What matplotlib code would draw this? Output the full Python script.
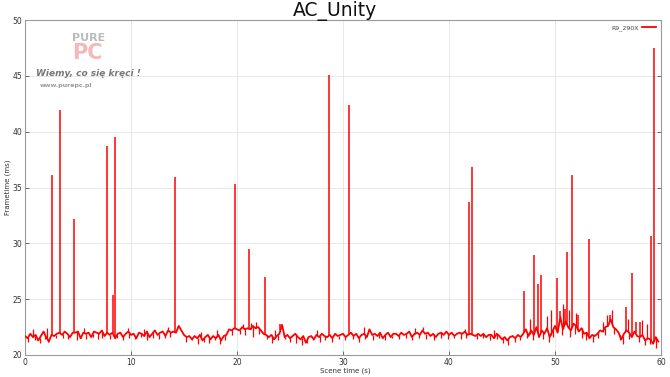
import numpy as np
import matplotlib
matplotlib.use("Agg")
import matplotlib.pyplot as plt

# ---- data ----
series_name = "R9_290X"
title = "AC_Unity"

# baseline frametime (ms), 4 samples per second from 0.0 s to 59.75 s
base_ms = [
    21.7, 21.5, 21.9, 21.6,  21.8, 21.3, 21.7, 22.1,  21.6, 21.2, 21.8, 21.7,
    21.9, 22.0, 21.8, 22.1,  21.9, 21.6, 22.0, 22.0,  22.1, 21.5, 22.0, 21.9,
    22.0, 21.6, 22.1, 22.0,  21.9, 22.2, 21.7, 22.0,  21.8, 22.0, 21.5, 21.9,
    22.0, 21.6, 21.9, 22.1,  21.8, 21.9, 21.5, 22.0,  21.9, 21.7, 22.1, 21.6,
    21.9, 22.2, 21.8, 22.0,  22.1, 21.7, 22.2, 22.0,  22.1, 22.0, 22.6, 22.2,
    21.8, 21.6, 21.7, 21.4,  21.7, 21.5, 21.8, 21.3,  21.6, 21.8, 21.4, 21.7,
    21.5, 21.8, 21.3, 21.7,  21.8, 22.3, 22.2, 22.4,  22.3, 22.2, 22.5, 22.3,
    22.4, 22.3, 22.6, 22.4,  22.5, 22.2, 21.9, 21.8,  21.6, 21.8, 21.4, 21.7,
    21.9, 22.7, 21.6, 21.8,  21.5, 21.7, 21.9, 21.6,  21.4, 21.7, 21.1, 21.6,
    21.7, 21.4, 21.8, 21.6,  21.9, 21.7, 21.6, 21.8,  21.5, 21.9, 21.7, 21.8,
    21.9, 21.6, 21.8, 22.0,  21.7, 21.9, 21.5, 21.8,  21.9, 21.6, 22.3, 21.8,
    21.9, 21.7, 22.0, 21.5,  21.8, 22.0, 21.6, 21.9,  21.9, 21.7, 22.0, 21.8,
    21.9, 22.1, 21.6, 21.9,  22.0, 21.8, 22.2, 21.9,  22.0, 21.7, 21.9, 21.6,
    21.9, 22.0, 21.8, 22.1,  21.8, 22.0, 21.7, 21.9,  22.0, 21.9, 22.1, 21.8,
    21.9, 21.8, 21.7, 21.9,  21.7, 21.9, 21.6, 21.8,  21.8, 21.5, 21.9, 21.7,
    21.4, 21.6, 21.3, 21.6,  21.7, 21.5, 21.8, 21.6,  21.9, 22.3, 21.7, 22.2,
    21.8, 22.5, 21.6, 22.2,  21.9, 22.4, 21.6, 22.1,  22.6, 22.0, 23.4, 22.3,
    23.0, 22.5, 22.2, 22.8,  22.6, 22.1, 22.4, 21.9,  22.0, 21.5, 21.8, 21.7,
    21.9, 22.2, 22.1, 22.5,  22.6, 23.2, 22.5, 22.3,  22.0, 21.4, 21.9, 22.2,
    22.0, 21.6, 22.1, 21.7,  21.6, 21.8, 21.3, 21.5,  21.4, 21.0, 21.6, 21.2,
]
base_step_s = 0.25

# single-frame spikes: time (s) and peak frametime (ms)
spike_t = [2.50, 3.33, 4.65, 7.74, 8.27, 8.52, 14.18, 19.84, 21.10, 22.60,
           24.10, 28.65, 30.57, 41.90, 42.17, 47.10, 48.00, 48.40, 48.70,
           50.20, 50.50, 50.90, 51.10, 51.60, 52.20, 53.20, 55.20, 56.70,
           57.30, 57.60, 58.00, 59.06, 59.30]
spike_v = [36.1, 41.9, 32.2, 38.7, 25.4, 39.5, 35.9, 35.3, 29.5, 27.0,
           22.8, 45.1, 42.4, 33.7, 36.8, 25.7, 29.0, 26.4, 27.2,
           26.9, 23.9, 24.1, 29.2, 36.1, 23.6, 30.4, 23.6, 24.3,
           27.3, 23.0, 23.0, 30.7, 47.5]

# short single-frame drops below the band: time (s), frametime (ms)
dip_t = [0.3, 0.9, 1.4, 1.9, 2.2, 2.9, 3.6, 4.1, 4.9, 5.3, 5.8, 6.4, 6.9,
         7.3, 8.0, 8.7, 9.2, 9.8, 10.4, 10.9, 11.5, 12.1, 12.6, 13.2, 13.7,
         15.2, 15.8, 16.3, 16.9, 17.4, 17.9, 18.4, 18.9, 19.5, 20.3, 20.8,
         21.5, 22.1, 22.8, 23.3, 23.9, 24.5, 25.0, 25.6, 26.1, 26.6, 27.2,
         27.8, 28.3, 29.0, 29.6, 30.2, 30.9, 31.5, 32.1, 32.8, 33.4, 34.0,
         34.6, 35.3, 35.9, 36.5, 37.2, 37.8, 38.6, 39.2, 39.9, 40.5, 41.1,
         41.6, 42.6, 43.2, 43.9, 44.5, 45.1, 45.6, 46.2, 46.7, 47.4, 47.9,
         48.9, 49.4, 49.8, 50.7, 51.4, 51.9, 52.5, 52.9, 53.6, 54.1, 54.7,
         55.6, 56.1, 56.4, 57.0, 57.9, 58.5, 59.0, 59.5]
dip_v = [21.2, 21.3, 21.1, 21.4, 21.2, 21.5, 21.5, 21.4, 21.3, 21.5, 21.4,
         21.6, 21.4, 21.5, 21.4, 21.5, 21.3, 21.5, 21.4, 21.6, 21.3, 21.5,
         21.4, 21.5, 21.6, 21.2, 21.3, 21.0, 21.2, 21.1, 21.3, 21.0, 21.3,
         21.8, 21.9, 21.8, 21.6, 21.9, 21.4, 21.1, 21.3, 21.4, 21.2, 21.1,
         20.9, 21.1, 21.3, 21.2, 21.3, 21.2, 21.4, 21.3, 21.4, 21.2, 21.4,
         21.3, 21.5, 21.3, 21.5, 21.4, 21.5, 21.3, 21.5, 21.4, 21.3, 21.5,
         21.4, 21.5, 21.4, 21.5, 21.4, 21.5, 21.3, 21.4, 21.1, 20.9, 21.2,
         21.3, 21.5, 21.3, 21.4, 21.2, 21.6, 21.8, 21.6, 21.9, 21.5, 21.3,
         21.2, 21.5, 21.8, 21.9, 21.3, 21.0, 21.4, 21.2, 20.9, 21.0, 20.6]

# short single-frame rises above the band: time (s), frametime (ms)
bump_t = [0.8, 2.1, 5.6, 9.7, 11.2, 13.5, 16.6, 18.1, 20.6, 21.3, 21.8,
          23.6, 27.5, 32.0, 36.8, 37.5, 41.5, 44.2, 47.6, 49.2, 49.6, 50.8,
          51.3, 52.0, 54.5, 54.9, 55.4, 56.9, 58.2, 58.7]
bump_v = [22.3, 22.4, 22.4, 22.4, 22.3, 22.5, 22.1, 22.2, 22.8, 22.9, 23.0,
          22.2, 22.2, 22.5, 22.4, 22.5, 22.3, 22.2, 23.2, 23.5, 24.0, 24.6,
          24.0, 23.8, 23.0, 23.6, 24.0, 23.2, 23.1, 22.8]

x_ticks = [0, 10, 20, 30, 40, 50, 60]
y_ticks = [20, 25, 30, 35, 40, 45, 50]

# ---- figure ----
W, H = 670, 377
fig = plt.figure(figsize=(W / 100, H / 100), dpi=100)
ax = fig.add_axes([25 / W, 1 - 355 / H, (661 - 25) / W, (355 - 20) / H])

red = "#ff0000"
base_t = np.arange(len(base_ms)) * base_step_s
ax.plot(base_t, base_ms, color=red, lw=1.3, label=series_name, zorder=3)
for tt, vv, lw in ((spike_t, spike_v, 1.1), (dip_t, dip_v, 0.9),
                   (bump_t, bump_v, 0.9)):
    y0 = np.interp(tt, base_t, base_ms)
    ax.vlines(tt, y0, vv, color=red, lw=lw, zorder=3)

ax.set_xlim(0, 60)
ax.set_ylim(20, 50)
ax.set_xticks(x_ticks)
ax.set_yticks(y_ticks)
ax.tick_params(axis="both", direction="in", length=3, width=0.6,
               labelsize=5.5, colors="#555555", labelcolor="#333333",
               top=False, right=True, pad=2)
ax.grid(True, color="#e8e2e4", lw=0.6, zorder=0)
for s in ax.spines.values():
    s.set_color("#9a9a9a")
    s.set_linewidth(0.8)

fig.text(345 / W, 1 - 371 / H, "Scene time (s)", fontsize=5,
         color="#333333", ha="center", va="center")
fig.text(8 / W, 1 - 187 / H, "Frametime (ms)", fontsize=5,
         color="#333333", ha="center", va="center", rotation=90)
fig.text(0.5, 1 - 11 / H, title, ha="center", va="center", fontsize=13.5,
         color="#111111")

leg = ax.legend(loc="upper right", fontsize=4.5, frameon=False,
                handlelength=2.2, borderaxespad=0.4, handletextpad=0.6,
                markerfirst=False)
for t in leg.get_texts():
    t.set_color("#444444")

# watermark (approximation of the site logo)
fig.text(72 / W, 1 - 38 / H, "PURE", fontsize=8, color="#bbbbbb",
         fontweight="bold", va="center", ha="left")
fig.text(72 / W, 1 - 53 / H, "PC", fontsize=15, color="#f4b8b8",
         fontweight="bold", va="center", ha="left")
fig.text(36 / W, 1 - 74 / H, "Wiemy, co się kręci !", fontsize=6.5,
         color="#777777", fontweight="bold", style="italic", va="center",
         ha="left")
fig.text(40 / W, 1 - 85 / H, "www.purepc.pl", fontsize=4.5,
         color="#999999", fontweight="bold", va="center", ha="left")

fig.savefig("out.png", dpi=100)
